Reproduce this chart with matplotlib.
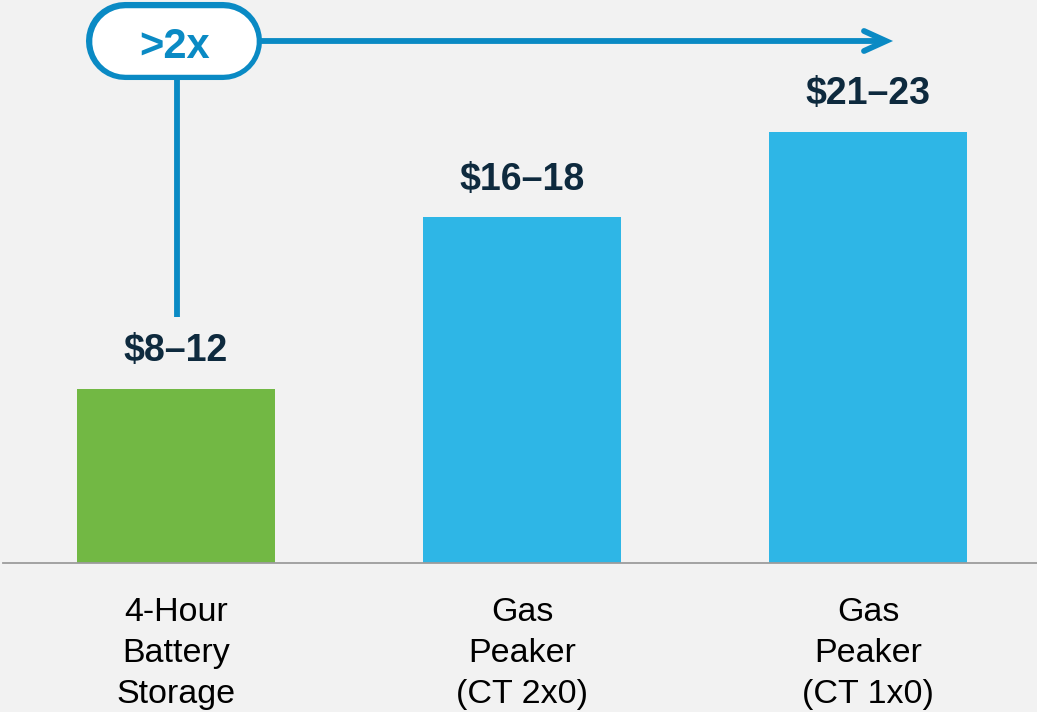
import matplotlib
matplotlib.use("Agg")
import matplotlib.pyplot as plt

# ---- data ----
categories = ["4-Hour\nBattery\nStorage", "Gas\nPeaker\n(CT 2x0)", "Gas\nPeaker\n(CT 1x0)"]
bar_values = [8.05, 16.0, 19.95]
value_labels = ["$8\u201312", "$16\u201318", "$21\u201323"]
bar_colors = ["#72b844", "#2eb6e6", "#2eb6e6"]
multiplier_label = ">2x"

BG = "#f2f2f2"
ARROW = "#0a8ac4"
NAVY = "#0e2a3e"
FONT = "Liberation Sans"

W, H = 1037, 712
fig = plt.figure(figsize=(W / 100, H / 100), dpi=100, facecolor=BG)

# main axes spans the whole figure
ax = fig.add_axes([0, 0, 1, 1])
ax.set_facecolor(BG)
px_per_x = 346.0
px_per_y = 21.6
base_px = 563.0
x0 = 176.0
ax.set_xlim(-x0 / px_per_x, (W - x0) / px_per_x)
ax.set_ylim(-(H - base_px) / px_per_y, base_px / px_per_y)
ax.axis("off")

xs = list(range(len(categories)))
bars = ax.bar(xs, bar_values, width=198 / px_per_x, color=bar_colors, zorder=2)

# baseline
ax.axhline(0, xmin=3 / W, xmax=1, color="#9c9c9c", lw=1.3, zorder=3)

# value labels
for rect, lab in zip(bars, value_labels):
    ax.annotate(lab, (rect.get_x() + rect.get_width() / 2, rect.get_height()),
                xytext=(0, 20), textcoords="offset points",
                ha="center", va="baseline", fontsize=27, fontweight="bold",
                color=NAVY, family=FONT)

# category labels
for x, cat in zip(xs, categories):
    ax.text(x, -(597 - base_px) / px_per_y, cat, ha="center", va="top",
            fontsize=24.5, color="#000000", family=FONT, linespacing=1.42)

# overlay in pixel coordinates for the annotation graphic
ov = fig.add_axes([0, 0, 1, 1])
ov.set_xlim(0, W)
ov.set_ylim(H, 0)
ov.axis("off")
ov.patch.set_alpha(0)

lw = 4.2
# vertical connector from bar 1 label area up to the pill
ov.plot([176.5, 176.5], [317, 60], color=ARROW, lw=lw, solid_capstyle="butt", zorder=2)
# horizontal arrow
ov.plot([220, 885], [41, 41], color=ARROW, lw=lw, solid_capstyle="butt", zorder=2)
ov.plot([864, 886, 864], [31, 41, 51], color=ARROW, lw=lw,
        solid_capstyle="round", solid_joinstyle="miter", zorder=2)

# pill shaped label: outer blue stroke + inner white fill
ov.plot([125, 223], [41, 41], color=ARROW, lw=56.2, solid_capstyle="round", zorder=3)
ov.plot([125, 223], [41, 41], color="white", lw=47.9, solid_capstyle="round", zorder=4)
ov.text(175, 42, multiplier_label, ha="center", va="center_baseline", fontsize=30,
        fontweight="bold", color=ARROW, family=FONT, zorder=5)

fig.savefig("out.png", dpi=100, facecolor=BG)
